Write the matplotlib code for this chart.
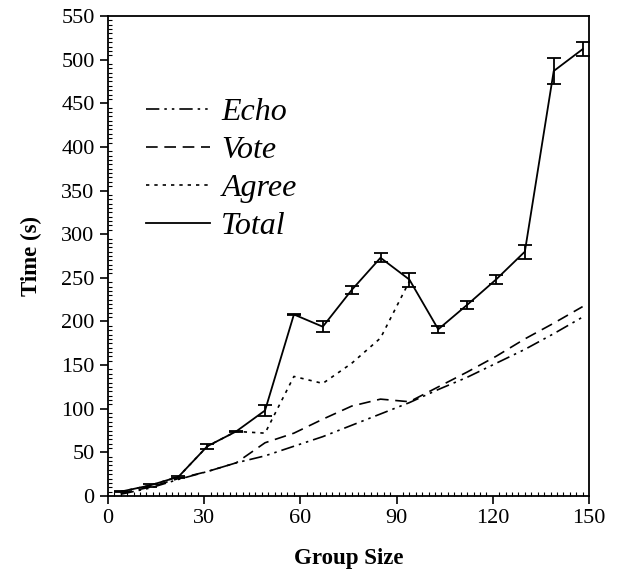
import matplotlib.pyplot as plt
from matplotlib.lines import Line2D
from matplotlib.ticker import MultipleLocator

plt.rcParams['font.family'] = ['Liberation Serif', 'DejaVu Serif']

group_size = [4, 13, 22, 31, 40, 49, 58, 67, 76, 85, 94, 103, 112, 121, 130, 139, 148]
echo = [2, 9, 19, 28, 38, 46, 57, 68, 81, 94, 107, 122, 136, 152, 168, 186, 205]
vote = [3, 10, 20, 28, 38, 61, 72, 88, 103, 111, 108, 125, 142, 160, 180, 198, 217]
agree = [5, 12, 22, 57, 74, 72, 137, 129, 152, 181, 246]
total = [5, 12, 22, 57, 74, 98, 208, 194, 236, 273, 248, 191, 219, 248, 280, 487, 512]
total_err = [1, 2, 1, 3, 1, 6, 1, 6, 5, 5, 8, 4, 5, 5, 8, 15, 8]

fig = plt.figure(figsize=(6.2, 5.73), dpi=100)
ax = fig.add_axes([0.174, 0.1344, 0.776, 0.8376])

echo_ls = (0, (8, 3, 1.5, 3, 1.5, 3))
vote_ls = (0, (7, 4))
agree_ls = (0, (2, 3))

ax.plot(group_size, echo, color='black', lw=1.2, linestyle=echo_ls)
ax.plot(group_size, vote, color='black', lw=1.2, linestyle=vote_ls)
ax.plot(group_size[:len(agree)], agree, color='black', lw=1.2, linestyle=agree_ls)
ax.errorbar(group_size, total, yerr=total_err, color='black', lw=1.3,
            elinewidth=1.3, capsize=5, capthick=1.3)

ax.set_xlim(0, 150)
ax.set_ylim(0, 550)
ax.xaxis.set_major_locator(MultipleLocator(30))
ax.xaxis.set_minor_locator(MultipleLocator(2))
ax.yaxis.set_major_locator(MultipleLocator(50))
ax.yaxis.set_minor_locator(MultipleLocator(5))
ax.tick_params(which='major', direction='out', length=6, width=1.2,
               labelsize=16, top=False, right=False)
ax.tick_params(which='minor', direction='in', length=3, width=0.8,
               top=False, right=False)
for s in ax.spines.values():
    s.set_linewidth(1.3)

ax.set_xlabel('Group Size', fontsize=16.5, fontweight='bold', labelpad=14)
ax.set_ylabel('Time (s)', fontsize=16.5, fontweight='bold', labelpad=14)

handles = [Line2D([], [], color='black', lw=1.2, linestyle=echo_ls),
           Line2D([], [], color='black', lw=1.2, linestyle=vote_ls),
           Line2D([], [], color='black', lw=1.2, linestyle=agree_ls),
           Line2D([], [], color='black', lw=1.3)]
labels = ['Echo', 'Vote', 'Agree', 'Total']
ax.legend(handles, labels, loc='upper left', bbox_to_anchor=(0.02, 0.89),
          frameon=False, prop={'style': 'italic', 'size': 23},
          handlelength=2.0, labelspacing=0.27, handletextpad=0.35)

fig.savefig('out.png', dpi=100)
